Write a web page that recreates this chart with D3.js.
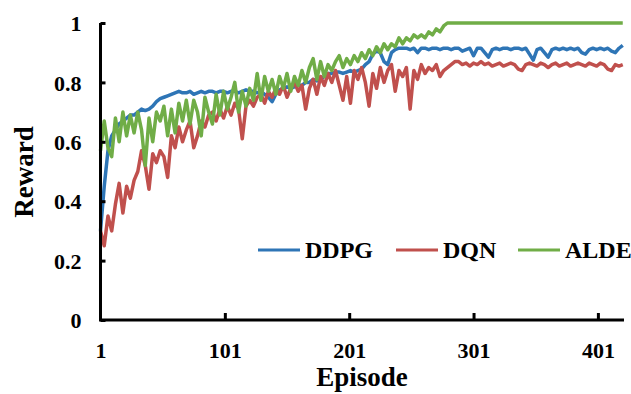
<!DOCTYPE html>
<html>
<head>
<meta charset="utf-8">
<script src="https://cdn.jsdelivr.net/npm/d3@7"></script>
<style>
  html, body { margin: 0; padding: 0; background: #fff; }
  svg { display: block; }
  text { font-family: "Liberation Serif", "Times New Roman", serif; font-weight: bold; fill: #000; }
</style>
</head>
<body>
<svg id="chart" width="631" height="394"></svg>
<script>
// Reward per episode, sampled every 3 episodes starting at episode 1
const episodeStart = 1;
const episodeStep = 3;

const ddpg = [
  0.30, 0.45, 0.57, 0.62, 0.64, 0.66, 0.67, 0.68, 0.69, 0.69,
  0.70, 0.71, 0.705, 0.71, 0.72, 0.735, 0.745, 0.75, 0.755, 0.76,
  0.765, 0.77, 0.765, 0.765, 0.77, 0.76, 0.765, 0.77, 0.765, 0.77,
  0.77, 0.765, 0.77, 0.77, 0.765, 0.77, 0.77, 0.765, 0.77, 0.775,
  0.77, 0.77, 0.765, 0.77, 0.76, 0.75, 0.735, 0.76, 0.775, 0.78,
  0.785, 0.78, 0.785, 0.79, 0.79, 0.80, 0.80, 0.81, 0.805, 0.81,
  0.82, 0.83, 0.83, 0.835, 0.835, 0.83, 0.835, 0.84, 0.835, 0.84,
  0.845, 0.86, 0.87, 0.895, 0.905, 0.90, 0.87, 0.86, 0.90, 0.91,
  0.915, 0.915, 0.915, 0.91, 0.915, 0.90, 0.915, 0.915, 0.91, 0.915,
  0.915, 0.91, 0.915, 0.915, 0.91, 0.915, 0.915, 0.905, 0.91, 0.915,
  0.89, 0.915, 0.915, 0.90, 0.885, 0.91, 0.915, 0.91, 0.915, 0.915,
  0.91, 0.915, 0.915, 0.91, 0.915, 0.895, 0.875, 0.91, 0.915, 0.90,
  0.885, 0.91, 0.915, 0.91, 0.915, 0.91, 0.915, 0.91, 0.915, 0.90,
  0.895, 0.91, 0.915, 0.91, 0.915, 0.91, 0.915, 0.905, 0.90, 0.915,
  0.925
];

const dqn = [
  0.30, 0.25, 0.35, 0.30, 0.39, 0.46, 0.36, 0.45, 0.41, 0.47,
  0.50, 0.57, 0.52, 0.44, 0.56, 0.53, 0.57, 0.55, 0.48, 0.62,
  0.58, 0.65, 0.60, 0.64, 0.67, 0.58, 0.62, 0.67, 0.65, 0.69,
  0.70, 0.67, 0.71, 0.68, 0.72, 0.69, 0.73, 0.71, 0.61, 0.72,
  0.74, 0.72, 0.75, 0.76, 0.73, 0.77, 0.75, 0.78, 0.76, 0.79,
  0.75, 0.78, 0.80, 0.77, 0.79, 0.71, 0.78, 0.81, 0.76, 0.82,
  0.79, 0.83, 0.80, 0.84, 0.79, 0.74, 0.82, 0.73, 0.84, 0.81,
  0.85, 0.80, 0.72, 0.83, 0.78, 0.85, 0.80, 0.84, 0.86, 0.77,
  0.84, 0.82, 0.85, 0.71, 0.84, 0.81, 0.86, 0.83, 0.85, 0.84,
  0.86, 0.82, 0.84, 0.85, 0.86, 0.87, 0.87, 0.86, 0.865, 0.855,
  0.865, 0.86, 0.87, 0.86, 0.865, 0.855, 0.86, 0.865, 0.855, 0.86,
  0.865, 0.86, 0.845, 0.84, 0.86, 0.865, 0.86, 0.855, 0.865, 0.86,
  0.85, 0.86, 0.865, 0.855, 0.86, 0.865, 0.855, 0.86, 0.865, 0.86,
  0.855, 0.865, 0.86, 0.855, 0.865, 0.86, 0.845, 0.84, 0.86, 0.855,
  0.86
];

const alde = [
  0.57, 0.67, 0.58, 0.55, 0.68, 0.60, 0.70, 0.62, 0.69, 0.63,
  0.70, 0.64, 0.52, 0.68, 0.60, 0.70, 0.67, 0.72, 0.62, 0.71,
  0.63, 0.73, 0.67, 0.74, 0.66, 0.74, 0.70, 0.62, 0.75, 0.70,
  0.66, 0.76, 0.69, 0.77, 0.71, 0.75, 0.80, 0.70, 0.77, 0.72,
  0.78, 0.74, 0.83, 0.74, 0.82, 0.77, 0.81, 0.76, 0.82, 0.78,
  0.83, 0.77, 0.82, 0.79, 0.84, 0.80, 0.85, 0.88, 0.81, 0.87,
  0.82, 0.86, 0.84, 0.87, 0.89, 0.85, 0.88, 0.86, 0.89, 0.87,
  0.90, 0.88, 0.91, 0.89, 0.92, 0.90, 0.93, 0.91, 0.93, 0.92,
  0.95, 0.93, 0.95, 0.94, 0.96, 0.95, 0.96, 0.95, 0.97, 0.96,
  0.98, 0.97, 0.99, 1.00, 1.00, 1.00, 1.00, 1.00, 1.00, 1.00,
  1.00, 1.00, 1.00, 1.00, 1.00, 1.00, 1.00, 1.00, 1.00, 1.00,
  1.00, 1.00, 1.00, 1.00, 1.00, 1.00, 1.00, 1.00, 1.00, 1.00,
  1.00, 1.00, 1.00, 1.00, 1.00, 1.00, 1.00, 1.00, 1.00, 1.00,
  1.00, 1.00, 1.00, 1.00, 1.00, 1.00, 1.00, 1.00, 1.00, 1.00,
  1.00
];

const seriesNames = ["DDPG", "DQN", "ALDE"];
const seriesColors = ["#2E75B6", "#C0504D", "#70AD47"];
const xTickValues = [1, 101, 201, 301, 401];
const yTickValues = [0, 0.2, 0.4, 0.6, 0.8, 1];

const svg = d3.select("#chart");

const x = d3.scaleLinear().domain([1, 422]).range([100.5, 624]);
const y = d3.scaleLinear().domain([0, 1]).range([320, 23]);

const toPoints = arr => arr.map((v, i) => ({ ep: episodeStart + i * episodeStep, v }));
const series = [ddpg, dqn, alde].map((arr, k) => ({
  name: seriesNames[k], color: seriesColors[k], points: toPoints(arr)
}));

const line = d3.line().x(d => x(d.ep)).y(d => y(d.v));

svg.append("g").selectAll("path")
  .data(series)
  .join("path")
  .attr("d", d => line(d.points))
  .attr("fill", "none")
  .attr("stroke", d => d.color)
  .attr("stroke-width", 3.5)
  .attr("stroke-linejoin", "round");

// Axes
const yAxis = d3.axisLeft(y).tickValues(yTickValues).tickSize(-5).tickPadding(19)
  .tickFormat(d => d === 0 || d === 1 ? d3.format("d")(d) : d3.format(".1f")(d));
const gy = svg.append("g").attr("transform", `translate(${x(1)},0)`).call(yAxis);
gy.select(".domain").attr("stroke", "#000").attr("stroke-width", 3)
  .attr("d", `M0,${y(1)}V${y(0)}`);
gy.selectAll(".tick line").attr("stroke", "#000").attr("stroke-width", 3);
gy.selectAll(".tick text").attr("font-size", 22).attr("dy", "0.35em")
  .style("font-family", "'Liberation Serif', serif").style("font-weight", "bold");

const xAxis = d3.axisBottom(x).tickValues(xTickValues).tickSize(-7).tickPadding(22)
  .tickFormat(d3.format("d"));
const gx = svg.append("g").attr("transform", `translate(0,${y(0)})`).call(xAxis);
gx.select(".domain").attr("stroke", "#000").attr("stroke-width", 3)
  .attr("d", `M${x(1) - 1.5},0H${x(422)}`);
gx.selectAll(".tick line").attr("stroke", "#000").attr("stroke-width", 3)
  .filter(d => d === 1).remove();
gx.selectAll(".tick text").attr("font-size", 22)
  .style("font-family", "'Liberation Serif', serif").style("font-weight", "bold");
svg.selectAll(".tick text").attr("fill", "#000");

// Axis titles
svg.append("text")
  .attr("x", 362).attr("y", 386)
  .attr("text-anchor", "middle")
  .attr("font-size", 27)
  .text("Episode");

svg.append("text")
  .attr("transform", "translate(33,172) rotate(-90)")
  .attr("text-anchor", "middle")
  .attr("font-size", 27)
  .text("Reward");

// Legend
const legendX = [258, 396, 518];
const legend = svg.append("g").selectAll("g")
  .data(series)
  .join("g")
  .attr("transform", (d, i) => `translate(${legendX[i]},250)`);
legend.append("line")
  .attr("x1", 0).attr("x2", 42).attr("y1", 0).attr("y2", 0)
  .attr("stroke", d => d.color).attr("stroke-width", 3);
legend.append("text")
  .attr("x", 47).attr("y", 8)
  .attr("font-size", 24)
  .text(d => d.name);
</script>
</body>
</html>
